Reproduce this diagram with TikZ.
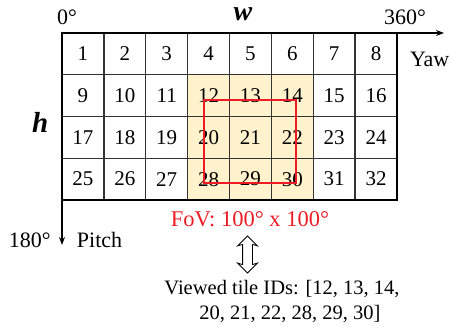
\documentclass[tikz,border=0pt]{standalone}
\usepackage{fontspec}
\setmainfont{Liberation Serif}
\usetikzlibrary{arrows.meta,shapes.arrows}

\begin{document}
\begin{tikzpicture}[x=1pt,y=1pt,
  cell/.style={draw=drawColor,line width=1.4pt,minimum width=41.875pt,minimum height=41.75pt,inner sep=0pt,outer sep=0pt,font=\fontsize{21}{25}\selectfont},
  lbl/.style={inner sep=0pt,outer sep=0pt,font=\fontsize{22}{26}\selectfont},
  axisLbl/.style={inner sep=0pt,outer sep=0pt,font=\fontsize{28}{33}\selectfont\bfseries\itshape}]
\definecolor{fillColor}{RGB}{255,255,255}
\path[use as bounding box,fill=fillColor] (0,0) rectangle (451,329);
\definecolor{drawColor}{gray}{0.2}
\definecolor{fovColor}{RGB}{255,242,204}
\definecolor{redColor}{RGB}{237,28,36}

% viewed tiles
\path[fill=fovColor] (187.625,254.25) rectangle (313.25,129);

% tiles, 8 x 4
\foreach \r in {1,...,4}{
  \foreach \c in {1,...,8}{
    \pgfmathtruncatemacro{\id}{(\r-1)*8+\c}
    \node[cell] (t\id) at ({62+41.875*(\c-0.5)},{296-41.75*(\r-0.5)}) {\id};
  }
}
\draw[black,line width=2pt] (t1.north west) rectangle (t32.south east);

% field of view
\draw[redColor,line width=1.3pt] (204,229) rectangle (296,146);

% axes
\coordinate (yawEnd) at (444,296);
\coordinate (pitchEnd) at (62,84);
\draw[black,line width=1.4pt,-{Stealth[length=8pt,width=6pt]}] (t1.north west) -- (yawEnd);
\draw[black,line width=1.4pt,-{Stealth[length=8pt,width=6pt]}] (t1.north west) -- (pitchEnd);

\node[lbl,anchor=base west] (zeroDeg) at (57,304) {0°};
\node[axisLbl,anchor=base] (wLbl) at (243,308) {w};
\node[lbl,anchor=base west] (maxYaw) at (384,304) {360°};
\node[lbl,anchor=base west] (yawLbl) at (410,262) {Yaw};
\node[axisLbl,anchor=base west,font=\fontsize{29}{34}\selectfont\bfseries\itshape] (hLbl) at (32,196) {h};
\node[lbl,anchor=base west] (maxPitch) at (9,81) {180°};
\node[lbl,anchor=base west] (pitchLbl) at (77,81) {Pitch};

\node[lbl,anchor=base,text=redColor,font=\fontsize{22.5}{27}\selectfont] (fov) at (250,102) {FoV: 100° x 100°};
\node[double arrow,draw=black,line width=0.8pt,inner sep=4.5pt,double arrow head extend=5pt,double arrow head indent=1.5pt,minimum height=37pt,rotate=90] (eqv) at (247.5,74.5) {};
\node[lbl,anchor=base,font=\fontsize{20.5}{25}\selectfont] (ids1) at (282,34) {Viewed tile IDs: [12, 13, 14,};
\node[lbl,anchor=base,font=\fontsize{20.5}{25}\selectfont] (ids2) at (290,9) {20, 21, 22, 28, 29, 30]};
\end{tikzpicture}
\end{document}
